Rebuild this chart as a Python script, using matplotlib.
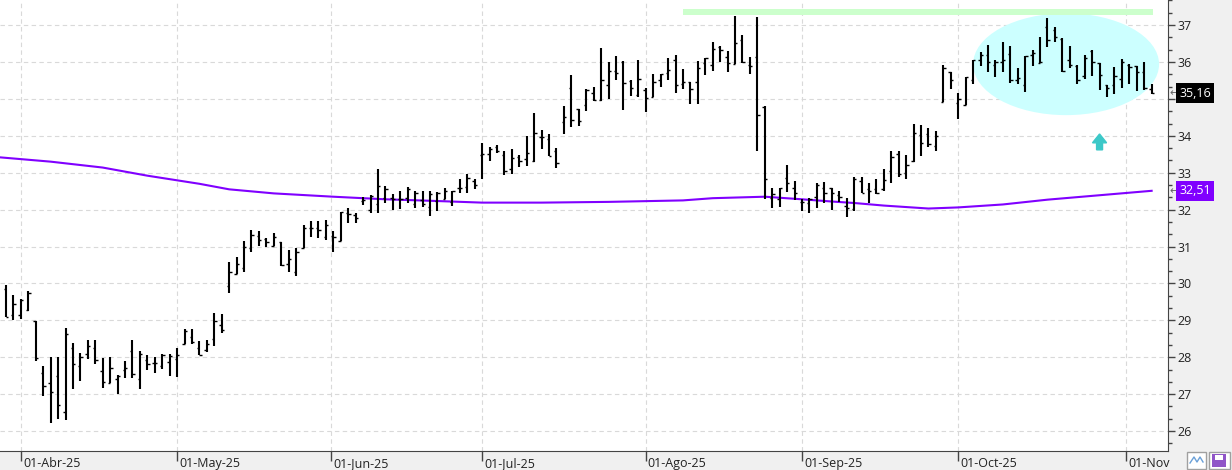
import numpy as np
import matplotlib
matplotlib.use("Agg")
import matplotlib.pyplot as plt
from matplotlib.patches import Ellipse, Rectangle
from matplotlib.transforms import blended_transform_factory

plt.rcParams['font.family'] = ['Open Sans', 'DejaVu Sans']

# ---------------------------------------------------------------------------
# datos OHLC diarios (indice de sesion 0..154)
# ---------------------------------------------------------------------------
opens = [29.86, 29.14, 29.14, 29.27, 28.97, 27.58, 27.29, 27.50, 26.52, 28.24,
         27.75, 28.10, 28.24, 27.62, 27.29, 27.40, 27.66, 28.18, 27.40, 27.92,
         27.84, 27.76, 27.88, 27.94, 28.35, 28.55, 28.25, 28.21, 28.49, 28.87,
         29.93, 30.26, 30.42, 30.97, 31.29, 31.20, 31.02, 31.11, 30.52, 30.32,
         30.95, 31.50, 31.49, 31.27, 31.29, 31.16, 31.92, 31.86, 32.23, 31.99,
         32.14, 32.32, 32.32, 32.28, 32.32, 32.15, 32.26, 32.06, 32.24, 32.30,
         32.21, 32.58, 32.61, 32.77, 33.48, 33.52, 33.70, 33.48, 33.10, 33.42,
         33.36, 33.31, 33.97, 33.92, 33.59, 34.38, 35.30, 34.73, 34.84, 35.15,
         34.96, 35.38, 35.76, 36.00, 35.49, 35.10, 35.25, 35.05, 35.51, 35.70,
         36.06, 35.41, 35.47, 35.47, 35.97, 35.92, 36.41, 36.14, 35.95, 36.60,
         35.93, 36.14, 34.78, 32.32, 32.30, 32.86, 32.59, 32.21, 32.17, 32.35,
         32.59, 32.58, 32.40, 32.10, 32.03, 32.77, 32.57, 32.55, 32.55, 33.06,
         33.51, 32.98, 33.32, 34.01, 34.05, 33.73, 34.91, 35.73, 34.89, 34.84,
         35.50, 36.06, 36.20, 35.93, 36.00, 36.23, 35.52, 35.38, 36.20, 35.97,
         36.95, 36.86, 36.63, 36.06, 35.88, 35.63, 36.29, 35.97, 35.38, 35.38,
         35.54, 35.93, 35.88, 35.74, 35.27]
highs = [29.96, 29.68, 29.59, 29.79, 28.98, 27.76, 28.01, 28.01, 28.79, 28.38,
         28.11, 28.47, 28.47, 27.97, 28.02, 27.53, 27.90, 28.48, 28.17, 28.06,
         28.00, 28.10, 28.10, 28.25, 28.76, 28.76, 28.44, 28.48, 29.19, 29.16,
         30.57, 30.71, 31.15, 31.44, 31.41, 31.23, 31.36, 31.11, 30.91, 30.97,
         31.59, 31.68, 31.68, 31.73, 31.41, 31.94, 32.05, 31.92, 32.35, 32.39,
         33.09, 32.64, 32.42, 32.50, 32.62, 32.51, 32.50, 32.50, 32.49, 32.58,
         32.51, 32.82, 32.97, 32.82, 33.81, 33.70, 33.76, 33.58, 33.63, 33.48,
         33.99, 34.61, 34.17, 34.05, 33.66, 34.82, 35.64, 34.73, 35.28, 35.32,
         36.38, 36.00, 36.17, 36.02, 35.50, 36.06, 35.29, 35.68, 35.68, 36.11,
         36.19, 35.81, 35.47, 36.02, 36.11, 36.53, 36.44, 36.29, 37.25, 36.74,
         36.14, 37.23, 34.80, 32.59, 32.59, 33.21, 32.77, 32.30, 32.31, 32.71,
         32.76, 32.59, 32.50, 32.32, 32.88, 32.88, 32.71, 32.82, 33.09, 33.58,
         33.60, 33.47, 34.33, 34.30, 34.22, 34.12, 35.93, 35.74, 35.16, 35.59,
         36.05, 36.27, 36.47, 36.06, 36.54, 36.44, 35.84, 36.15, 36.33, 36.68,
         37.19, 36.95, 36.65, 36.44, 35.93, 36.18, 36.32, 35.97, 35.39, 35.86,
         36.09, 35.95, 35.90, 36.01, 35.41]
lows = [29.10, 29.01, 29.05, 29.25, 27.91, 26.95, 26.22, 26.33, 26.30, 27.15,
        27.36, 27.96, 27.82, 27.18, 27.29, 27.01, 27.45, 27.44, 27.15, 27.66,
        27.58, 27.68, 27.49, 27.47, 28.35, 28.37, 28.05, 28.15, 28.31, 28.65,
        29.73, 30.26, 30.32, 30.86, 31.02, 31.00, 31.02, 30.46, 30.30, 30.19,
        30.95, 31.27, 31.22, 31.18, 30.86, 31.16, 31.65, 31.65, 32.12, 31.92,
        31.92, 32.17, 31.99, 32.03, 32.17, 32.05, 32.06, 31.83, 31.95, 32.28,
        32.10, 32.46, 32.45, 32.57, 32.83, 33.31, 33.54, 32.95, 32.97, 33.16,
        33.19, 33.29, 33.65, 33.45, 33.14, 34.05, 34.24, 34.26, 34.68, 34.93,
        34.94, 35.01, 35.50, 34.69, 35.09, 35.05, 34.64, 35.05, 35.32, 35.50,
        35.16, 35.28, 34.87, 34.86, 35.64, 35.75, 35.99, 35.72, 35.95, 35.97,
        35.68, 33.59, 32.30, 32.05, 32.08, 32.49, 32.26, 31.96, 31.92, 32.05,
        32.17, 31.99, 32.21, 31.81, 31.96, 32.46, 32.17, 32.41, 32.50, 32.73,
        32.88, 32.84, 33.30, 33.45, 33.69, 33.59, 34.91, 35.27, 34.46, 34.84,
        35.41, 35.88, 35.73, 35.59, 35.74, 35.43, 35.40, 35.19, 35.88, 35.97,
        36.42, 36.53, 35.72, 35.84, 35.41, 35.55, 35.63, 35.23, 35.05, 35.14,
        35.29, 35.41, 35.21, 35.25, 35.12]
closes = [29.10, 29.44, 29.55, 29.74, 27.98, 27.23, 27.07, 26.70, 28.64, 27.83,
          28.02, 28.30, 27.92, 27.34, 27.70, 27.48, 27.72, 27.54, 28.10, 27.81,
          27.84, 28.05, 28.03, 28.07, 28.70, 28.42, 28.06, 28.36, 28.97, 28.74,
          30.31, 30.53, 31.00, 31.31, 31.18, 31.13, 31.27, 30.50, 30.66, 30.84,
          31.49, 31.50, 31.45, 31.58, 31.26, 31.94, 31.88, 31.76, 32.26, 32.37,
          32.64, 32.57, 32.30, 32.30, 32.57, 32.46, 32.16, 32.43, 32.44, 32.50,
          32.50, 32.58, 32.87, 32.66, 33.50, 33.63, 33.58, 33.06, 33.41, 33.32,
          33.54, 34.08, 33.97, 33.45, 33.25, 34.52, 34.42, 34.40, 35.23, 34.98,
          35.50, 35.76, 35.70, 35.44, 35.29, 35.54, 35.03, 35.47, 35.68, 35.78,
          35.38, 35.47, 35.27, 35.84, 36.10, 36.35, 36.32, 35.97, 36.51, 35.99,
          35.88, 34.57, 32.82, 32.41, 32.59, 32.71, 32.46, 32.21, 32.28, 32.68,
          32.46, 32.46, 32.35, 32.05, 32.84, 32.46, 32.51, 32.46, 32.79, 33.43,
          32.97, 33.22, 34.08, 33.81, 33.78, 34.00, 35.84, 35.52, 35.01, 35.59,
          36.05, 36.20, 36.01, 36.01, 36.05, 35.50, 35.56, 36.15, 36.24, 36.01,
          36.60, 36.68, 35.75, 35.93, 35.52, 36.11, 36.01, 35.66, 35.30, 35.63,
          36.01, 35.86, 35.73, 35.30, 35.16]

# media movil (lectura por puntos)
ma_idx = [-1, 6, 13, 19, 26, 30, 36, 44, 51, 57, 64, 72, 81, 91, 95, 102,
          107, 111, 114, 118, 121, 124, 128, 134, 140, 147, 154]
ma_val = [33.42, 33.30, 33.14, 32.92, 32.70, 32.55, 32.44, 32.35, 32.28, 32.24,
          32.19, 32.19, 32.21, 32.25, 32.31, 32.35, 32.28, 32.22, 32.18, 32.11,
          32.07, 32.03, 32.06, 32.14, 32.27, 32.39, 32.51]

month_pos = [2, 23, 43.75, 64, 86, 107, 128, 150.55]
month_labels = ['01-Abr-25', '01-May-25', '01-Jun-25', '01-Jul-25',
                '01-Ago-25', '01-Sep-25', '01-Oct-25', '01-Nov']

price_ticks = list(range(26, 38))
last_price = 35.16
last_ma = 32.51
resistance = 37.35

# ---------------------------------------------------------------------------
# grafico
# ---------------------------------------------------------------------------
W, H = 1232, 470
fig = plt.figure(figsize=(W / 100, H / 100), dpi=100, facecolor='#f0f0f0')
ax = fig.add_axes([0, 19 / H, 1168 / W, 1 - 19 / H])
ax.set_facecolor('white')
ax.set_axisbelow(True)

x = np.arange(len(opens))
ax.set_xlim(-0.806, 156.2)
ax.set_ylim(25.46, 37.68)

# zona (elipse) y resistencia
ax.add_patch(Ellipse((142.5, 35.94), 25.0, 2.76, facecolor='#ccffff',
                     edgecolor='none', zorder=1))
ax.hlines(resistance, 91.0, 154.2, color='#ccffcc', lw=4.3, zorder=1,
          capstyle='butt')

# media movil
ax.plot(ma_idx, ma_val, color='#8000ff', lw=1.5, zorder=2)

# barras OHLC
ax.vlines(x, lows, highs, color='black', lw=1.5, zorder=3)
ax.hlines(opens, x - 0.32, x, color='black', lw=1.0, zorder=3)
ax.hlines(closes, x, x + 0.32, color='black', lw=1.0, zorder=3)

# flecha
ax.arrow(147, 33.62, 0, 0.43, width=0.8, head_width=1.9, head_length=0.24,
         length_includes_head=True, color='#3cc8c8', zorder=3)

# rejilla
ax.grid(True, color='#d9d9d9', linestyle=(0, (4, 3)), lw=0.8)

for s in ['top', 'left']:
    ax.spines[s].set_visible(False)
ax.spines['right'].set_color('#444444')
ax.spines['bottom'].set_color('#444444')

# eje de precios (derecha); la etiqueta 35 queda tapada por el ultimo precio
ax.yaxis.tick_right()
ax.set_yticks(price_ticks)
ax.set_yticklabels(['' if v == round(last_price) else str(v) for v in price_ticks])
ax.set_yticks(np.arange(25.0 + 2 / 3, 37.67, 1 / 3), minor=True)
ax.tick_params(axis='y', which='major', direction='out', length=5, width=1,
               color='#444444', labelsize=9, labelcolor='#222222', pad=2)
ax.tick_params(axis='y', which='minor', direction='out', length=3, width=1,
               color='#444444')
ax.yaxis.grid(True, which='minor', lw=0)

# eje de fechas
ax.set_xticks(month_pos)
ax.set_xticklabels([])
ax.tick_params(axis='x', direction='out', length=7, width=1, color='#444444')
for pos, lbl in zip(month_pos, month_labels):
    ax.annotate(lbl, xy=(pos, 0), xycoords=('data', 'axes fraction'),
                xytext=(1.5, -8.8), textcoords='offset points',
                ha='left', va='center', fontsize=9, color='#222222',
                annotation_clip=False)

# etiquetas de precio en el eje
tr = blended_transform_factory(ax.transAxes, ax.transData)
for val, txt, bg in [(last_price, '35,16', 'black'), (last_ma, '32,51', '#8000ff')]:
    ax.text(1.0015, val, '\u2190', transform=tr, fontsize=8, color='#666666',
            va='center', ha='left', family=['DejaVu Sans'])
    ax.text(1.0095, val, txt, transform=tr, fontsize=9, color='white',
            va='center', ha='left', zorder=5,
            bbox=dict(boxstyle='square,pad=0.26', fc=bg, ec='none'))

# iconos inferiores
fig.patches.append(Rectangle((1187 / W, 1 / H), 19 / W, 17 / H,
                             transform=fig.transFigure, fc='white',
                             ec='#a0a0a0', lw=1))
fig.lines.append(plt.Line2D(np.array([1190, 1194, 1197, 1200, 1203]) / W,
                            np.array([7, 13, 8, 13, 8]) / H,
                            transform=fig.transFigure, color='#6aa0d8', lw=1))
fig.patches.append(Rectangle((1209 / W, 1 / H), 21 / W, 17 / H,
                             transform=fig.transFigure, fc='white',
                             ec='#a0a0a0', lw=1))
fig.patches.append(Rectangle((1212 / W, 3 / H), 14 / W, 13 / H,
                             transform=fig.transFigure, fc='#9055c8',
                             ec='none'))
fig.patches.append(Rectangle((1215 / W, 10 / H), 8 / W, 5 / H,
                             transform=fig.transFigure, fc='white',
                             ec='none'))

fig.savefig('out.png', dpi=100, facecolor=fig.get_facecolor())
